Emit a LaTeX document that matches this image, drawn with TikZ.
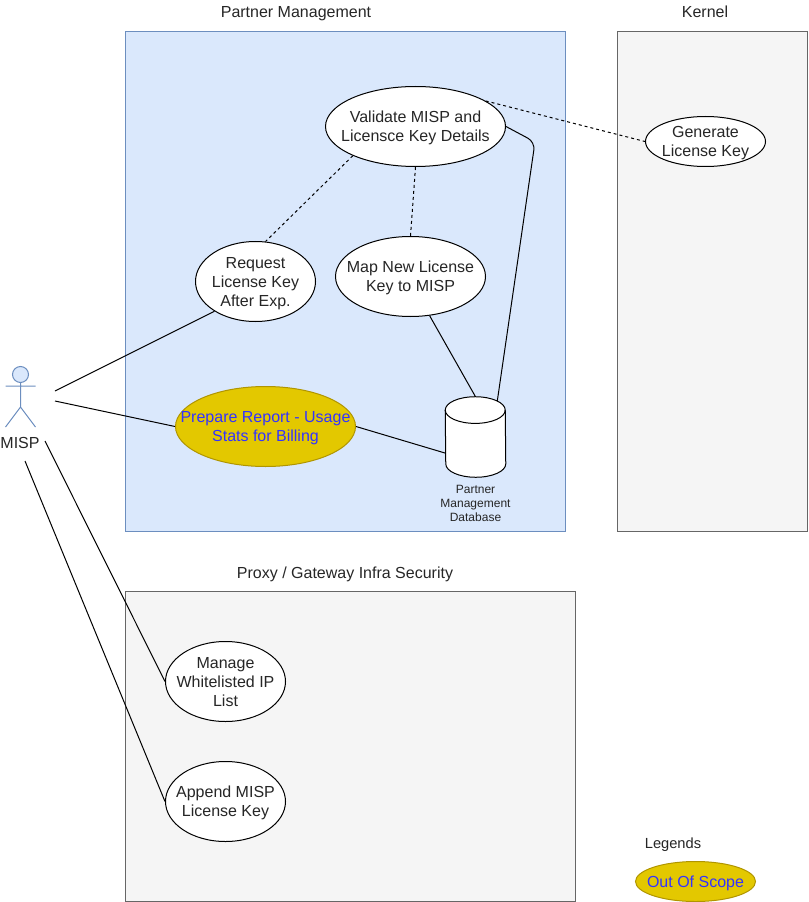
\documentclass[tikz,border=0pt]{standalone}
\usepackage{xcolor}
\usepackage{fontspec}
\setmainfont{Liberation Sans}
\usepackage{tikz}
\usetikzlibrary{shapes.geometric}
\definecolor{panelblue}{HTML}{DAE8FC}
\definecolor{edgeblue}{HTML}{6C8EBF}
\definecolor{panelgray}{HTML}{F5F5F5}
\definecolor{edgegray}{HTML}{666666}
\definecolor{scopeyellow}{HTML}{E3C800}
\definecolor{edgeyellow}{HTML}{B09500}
\definecolor{scopetext}{HTML}{3333FF}
\tikzset{
  usecase/.style={ellipse, draw=black, fill=white, line width=0.75pt, inner sep=-20pt, align=center, text=black!85, text depth=-0.5pt, font=\fontsize{12}{14.25}\selectfont},
  outscope/.style={usecase, draw=edgeyellow, fill=scopeyellow, text=scopetext},
  grouptitle/.style={inner sep=0pt, text=black!85, font=\fontsize{12}{14.25}\selectfont},
  link/.style={line width=0.75pt, black},
  dashlink/.style={link, dash pattern=on 2.25pt off 2.25pt}
}
\begin{document}
\begin{tikzpicture}[x=0.75pt, y=-0.75pt]
\useasboundingbox (0,0) rectangle (808,902);
\draw[line width=0.75pt, draw=edgeblue, fill=panelblue] (125.5,31.5) rectangle (565.5,531.5);
\draw[line width=0.75pt, draw=edgegray, fill=panelgray] (617.5,31.5) rectangle (807.5,531.5);
\draw[line width=0.75pt, draw=edgegray, fill=panelgray] (125.5,591.5) rectangle (575.5,901.5);
\node[grouptitle] (partnertitle) at (296,14) {Partner Management};
\node[grouptitle] (kerneltitle) at (705,12) {Kernel};
\node[grouptitle] (proxytitle) at (345,574) {Proxy / Gateway Infra Security};
\node[grouptitle, font=\fontsize{11}{12}\selectfont] (legendtitle) at (673,845) {Legends};
\node[usecase, minimum width=180*0.75pt, minimum height=80*0.75pt] (validate) at (415.5,126.5) {Validate MISP and\\Licensce Key Details};
\node[usecase, minimum width=120*0.75pt, minimum height=50*0.75pt] (generate) at (705.5,141.5) {Generate\\License Key};
\node[usecase, minimum width=120*0.75pt, minimum height=80*0.75pt] (request) at (255.5,281.5) {Request\\License Key\\After Exp.};
\node[usecase, minimum width=150*0.75pt, minimum height=80*0.75pt] (map) at (410.5,276.5) {Map New License\\Key to MISP};
\node[outscope, minimum width=180*0.75pt, minimum height=80*0.75pt] (report) at (265.5,426.5) {Prepare Report - Usage\\Stats for Billing};
\node[usecase, minimum width=120*0.75pt, minimum height=80*0.75pt] (manage) at (225.5,681.5) {Manage\\Whitelisted IP\\List};
\node[usecase, minimum width=120*0.75pt, minimum height=80*0.75pt] (append) at (225.5,801.5) {Append MISP\\License Key};
\node[outscope, text height=9pt, text depth=0pt, minimum width=120*0.75pt, minimum height=40*0.75pt] (legend) at (695.5,881.5) {Out Of Scope};
\node[inner sep=0pt, minimum width=60*0.75pt, minimum height=80*0.75pt] (database) at (475.5,437) {};
\node[inner sep=0pt, align=center, text=black!85, font=\fontsize{9}{10.5}\selectfont] (dblabel) at (475.5,503) {Partner\\Management\\Database};
\node[circle, draw=edgeblue, fill=panelblue, line width=0.75pt, inner sep=0pt, minimum size=16*0.75pt] (head) at (20.5,374.5) {};
\draw[line width=0.75pt, draw=edgeblue] (head.south) -- (20.5,407) -- (5.5,427) (20.5,407) -- (35.5,427) (5.5,386) -- (35.5,386);
\node[grouptitle] (misp) at (20,442.5) {MISP};
\coordinate (actorupper) at (55,391);
\coordinate (actorlower) at (55,401);
\coordinate (actormanage) at (45,441);
\coordinate (actorappend) at (25,461);
\coordinate (dbbend) at (535,142);
\coordinate (dbtop) at (497,403);
\draw[link] (actorupper) -- (request.216);
\draw[link] (actorlower) -- (report.west);
\draw[link] (actormanage) -- (manage.west);
\draw[link] (actorappend) -- (append.west);
\draw[dashlink] (validate.205) -- (request.76);
\draw[dashlink] (validate.south) -- (map.north);
\draw[dashlink] (validate.20) -- (generate.west);
\draw[link, rounded corners=6pt] (validate.east) -- (dbbend) -- (dbtop);
\draw[link] (map.-64) -- (database.north);
\draw[link] (report.east) -- (database.208);
\draw[line width=0.75pt, fill=white] ([yshift=-10pt]database.north west) arc[start angle=180, end angle=0, x radius=22.5pt, y radius=10pt] -- ([yshift=10pt]database.south east) arc[start angle=0, end angle=-180, x radius=22.5pt, y radius=10pt] -- cycle;
\draw[line width=0.75pt] ([yshift=-10pt]database.north west) arc[start angle=180, end angle=360, x radius=22.5pt, y radius=10pt];
\end{tikzpicture}
\end{document}
